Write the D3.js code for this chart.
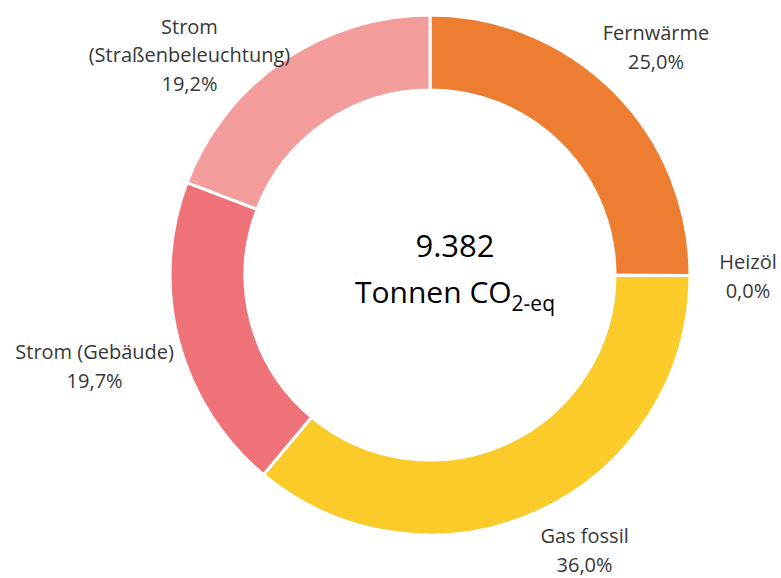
<!DOCTYPE html>
<html>
<head>
<meta charset="utf-8">
<script src="https://cdn.jsdelivr.net/npm/d3@7"></script>
<style>
  body { margin: 0; background: #fff; }
  text { font-family: 'Open Sans', sans-serif; fill: #383838; }
</style>
</head>
<body>
<div id="chart"></div>
<script>
const categories = ['Fernwärme', 'Heizöl', 'Gas fossil', 'Strom (Gebäude)', 'Strom (Straßenbeleuchtung)']
const shares = [25.0, 0.0, 36.0, 19.7, 19.2]
const labelLines = [['Fernwärme'], ['Heizöl'], ['Gas fossil'], ['Strom (Gebäude)'], ['Strom', '(Straßenbeleuchtung)']]
const colors = ['#ED7D31', '#A5A5A5', '#FBCB2A', '#EE7277', '#F29D9C']
const total = '9.382'

const width = 781
const height = 578
const cx = 430
const cy = 275
const outerR = 260
const innerR = 185
const labelR = 325
// manual nudges to imitate spreadsheet label placement
const labelNudge = [[-4, 2], [-7, 1], [17, -19], [-21, 9], [-56, 48]]

const data = categories.map((c, i) => ({ name: c, value: shares[i], lines: labelLines[i], color: colors[i] }))

const svg = d3.select('#chart')
  .append('svg')
  .attr('width', width)
  .attr('height', height)

const g = svg.append('g')
  .attr('transform', `translate(${cx}, ${cy})`)

const pie = d3.pie()
  .value(d => d.value)
  .sort(null)

const arc = d3.arc()
  .innerRadius(innerR)
  .outerRadius(outerR)

const labelArc = d3.arc()
  .innerRadius(labelR)
  .outerRadius(labelR)

const arcs = pie(data)

g.selectAll('path')
  .data(arcs)
  .enter()
  .append('path')
  .attr('d', arc)
  .attr('fill', d => d.data.color)
  .attr('stroke', '#fff')
  .attr('stroke-width', 3)
  .attr('stroke-linejoin', 'miter')

// Labels
const fmt = v => v.toFixed(1).replace('.', ',') + '%'
const lineH = 28.5

arcs.forEach((d, i) => {
  const [x, y] = labelArc.centroid(d)
  const lines = d.data.lines.concat([fmt(d.data.value)])
  const top = y + labelNudge[i][1] - (lines.length - 1) * lineH / 2
  const t = g.append('text')
    .attr('text-anchor', 'middle')
    .attr('font-size', '20px')
  lines.forEach((l, k) => {
    t.append('tspan')
      .attr('x', x + labelNudge[i][0])
      .attr('y', top + k * lineH)
      .attr('dy', '0.35em')
      .text(l)
  })
})

// Center text
const center = g.append('g').attr('transform', 'translate(25, 0)')
center.append('text')
  .attr('text-anchor', 'middle')
  .attr('y', -18)
  .attr('font-size', '31px')
  .style('fill', '#000')
  .text(total)

const co = center.append('text')
  .attr('text-anchor', 'middle')
  .attr('y', 28)
  .attr('font-size', '30px')
  .style('fill', '#000')
co.append('tspan').text('Tonnen CO')
co.append('tspan')
  .attr('font-size', '21px')
  .attr('dy', 8)
  .text('2-eq')
</script>
</body>
</html>
